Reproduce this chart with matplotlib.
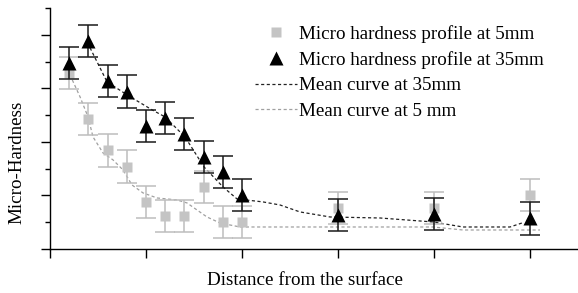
import numpy as np
import matplotlib
matplotlib.use("Agg")
import matplotlib.pyplot as plt
from matplotlib.ticker import MultipleLocator, NullFormatter

plt.rcParams['font.family'] = ['Liberation Serif', 'DejaVu Serif']

# measured points
x_pts = [0.2, 0.4, 0.6, 0.8, 1.0, 1.2, 1.4, 1.6, 1.8, 2.0, 3.0, 4.0, 5.0]
hv_35 = [3.47, 3.88, 3.13, 2.94, 2.30, 2.44, 2.14, 1.71, 1.44, 1.01, 0.64, 0.65, 0.57]
err_35 = [0.30, 0.30, 0.30, 0.30, 0.30, 0.30, 0.30, 0.30, 0.30, 0.30, 0.30, 0.30, 0.30]
hv_5 = [3.28, 2.43, 1.84, 1.54, 0.88, 0.62, 0.62, 1.15, 0.51, 0.51, 0.76, 0.76, 1.01]
err_5 = [0.30, 0.30, 0.30, 0.30, 0.30, 0.30, 0.30, 0.30, 0.30, 0.30, 0.30, 0.30, 0.30]

# mean curves
mean35_x = [0.417, 0.594, 0.802, 1.063, 1.198, 1.406, 1.604, 1.802, 1.948, 2.219,
            2.396, 2.604, 2.917, 3.438, 3.990, 4.302, 4.792, 4.917]
mean35_y = [3.757, 3.121, 2.879, 2.598, 2.467, 2.093, 1.533, 1.159, 0.935, 0.879,
            0.822, 0.692, 0.598, 0.579, 0.505, 0.411, 0.411, 0.486]
mean5_x = [0.208, 0.313, 0.396, 0.448, 0.552, 0.656, 0.760, 0.854, 0.969, 1.115,
           1.323, 1.427, 1.635, 1.771, 1.979, 3.990, 4.302, 5.104]
mean5_y = [3.252, 2.841, 2.467, 2.093, 1.794, 1.664, 1.477, 1.196, 1.047, 0.953,
           0.916, 0.860, 0.598, 0.486, 0.411, 0.411, 0.355, 0.355]

fs = 13.7
fig = plt.figure(figsize=(5.78, 2.93), dpi=100)
ax = fig.add_axes([50 / 578, 44 / 293, 528 / 578, 241 / 293])

grey = '#bdbdbd'
dark = '#1a1a1a'

l5, = ax.plot(mean5_x, mean5_y, ls=(0, (2.5, 2)), color='#a0a0a0', lw=0.9, zorder=2)
l35, = ax.plot(mean35_x, mean35_y, ls=(0, (2.5, 2)), color='#222222', lw=0.9, zorder=2)

ax.errorbar(x_pts, hv_5, yerr=err_5, fmt='none', ecolor=grey, elinewidth=1.1,
            capsize=7, capthick=1.1, zorder=3)
ax.errorbar(x_pts, hv_35, yerr=err_35, fmt='none', ecolor=dark, elinewidth=1.1,
            capsize=7, capthick=1.1, zorder=4)
h_sq, = ax.plot(x_pts, hv_5, 's', color='#c4c4c4', ms=7, mec='none', zorder=3)
h_tri, = ax.plot(x_pts, hv_35, '^', color='black', ms=10, mec='none', zorder=5)

ax.set_xlim(0, 5.5)
ax.set_ylim(0, 4.5)
ax.xaxis.set_major_locator(MultipleLocator(1))
ax.yaxis.set_major_locator(MultipleLocator(1))
ax.yaxis.set_minor_locator(MultipleLocator(0.5))
ax.xaxis.set_major_formatter(NullFormatter())
ax.yaxis.set_major_formatter(NullFormatter())
ax.tick_params(axis='both', which='major', direction='out', length=6.5, width=1)
ax.tick_params(axis='y', which='minor', direction='out', length=3.5, width=1)
for s in ['top', 'right']:
    ax.spines[s].set_visible(False)
for s in ['left', 'bottom']:
    ax.spines[s].set_linewidth(1)

ax.set_xlabel('Distance from the surface', fontsize=fs)
ax.xaxis.set_label_coords((305 - 50) / 528, -0.095)
ax.set_ylabel('Micro-Hardness', fontsize=fs)
ax.yaxis.set_label_coords(-0.047, (249 - 162) / 241)

ax.legend([h_sq, h_tri, l35, l5],
          ['Micro hardness profile at 5mm', 'Micro hardness profile at 35mm',
           'Mean curve at 35mm', 'Mean curve at 5 mm'],
          loc='upper left', bbox_to_anchor=(255 / 578, 1 - 25 / 293),
          bbox_transform=fig.transFigure, frameon=False, fontsize=fs,
          handlelength=2.2, handletextpad=0.1, labelspacing=0.43,
          borderpad=0, borderaxespad=0)

fig.savefig('out.png', dpi=100)
